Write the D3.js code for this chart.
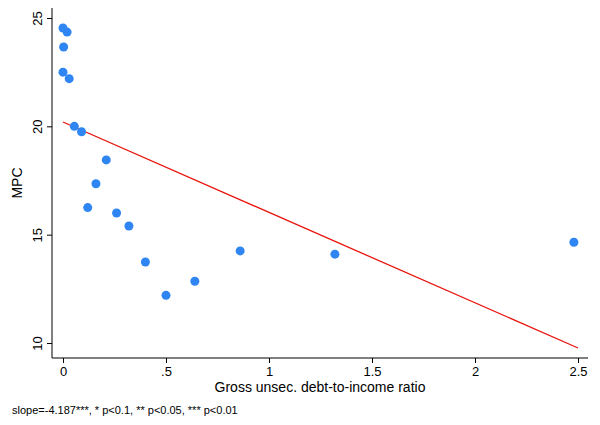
<!DOCTYPE html>
<html><head><meta charset="utf-8">
<script src="https://cdn.jsdelivr.net/npm/d3@7"></script>
<style>body{margin:0;background:#fff;font-family:"Liberation Sans",Arial,sans-serif}</style>
</head><body><svg width="600" height="425"></svg>
<script>
var debtRatio = [0, 0.02, 0.003, 0, 0.03, 0.055, 0.09, 0.21, 0.16, 0.12, 0.26, 0.32, 0.40, 0.50, 0.64, 0.86, 1.32, 2.48];
var mpc = [24.54, 24.35, 23.66, 22.5, 22.2, 20.0, 19.75, 18.45, 17.35, 16.25, 16.0, 15.4, 13.74, 12.2, 12.85, 14.25, 14.1, 14.65];
var fitX = [0, 2.5];
var fitY = [20.2, 9.77];
var xTicks = [0, 0.5, 1, 1.5, 2, 2.5];
var xTickLabels = ["0", ".5", "1", "1.5", "2", "2.5"];
var yTicks = [10, 15, 20, 25];

var svg = d3.select("svg");
var x = d3.scaleLinear().domain([0, 2.5]).range([63, 578]);
var y = d3.scaleLinear().domain([10, 25]).range([343, 18]);

// frame
svg.append("line").attr("x1",52).attr("x2",52).attr("y1",8).attr("y2",358).attr("stroke","#000");
svg.append("line").attr("x1",52).attr("x2",588).attr("y1",358).attr("y2",358).attr("stroke","#000");

var xa = svg.append("g").attr("transform","translate(0,358)")
  .call(d3.axisBottom(x).tickValues(xTicks).tickSize(5).tickFormat(function(d,i){return xTickLabels[i];}));
xa.select(".domain").remove();
xa.selectAll("text").attr("font-size",13).attr("font-family","Liberation Sans, Arial").attr("y",9).attr("dy","0.71em");

var ya = svg.append("g").attr("transform","translate(52,0)")
  .call(d3.axisLeft(y).tickValues(yTicks).tickSize(5));
ya.select(".domain").remove();
ya.selectAll("text").attr("font-size",13).attr("font-family","Liberation Sans, Arial")
  .attr("transform","rotate(-90)").attr("text-anchor","middle")
  .attr("x",0).attr("y",-10).attr("dy","0");

svg.append("line").attr("x1",x(fitX[0])).attr("y1",y(fitY[0])).attr("x2",x(fitX[1])).attr("y2",y(fitY[1]))
  .attr("stroke","#e8130c").attr("stroke-width",1.3);

svg.selectAll("circle.pt").data(debtRatio).enter().append("circle")
  .attr("cx",function(d){return x(d);}).attr("cy",function(d,i){return y(mpc[i]);})
  .attr("r",4.5).attr("fill","#2f86f2");

svg.append("text").attr("transform","translate(22,183) rotate(-90)").attr("text-anchor","middle")
  .attr("font-size",14).text("MPC");
svg.append("text").attr("x",320).attr("y",392).attr("text-anchor","middle").attr("font-size",14)
  .text("Gross unsec. debt-to-income ratio");
svg.append("text").attr("x",12).attr("y",414).attr("font-size",11)
  .text("slope=-4.187***, * p<0.1, ** p<0.05, *** p<0.01");
</script></body></html>
